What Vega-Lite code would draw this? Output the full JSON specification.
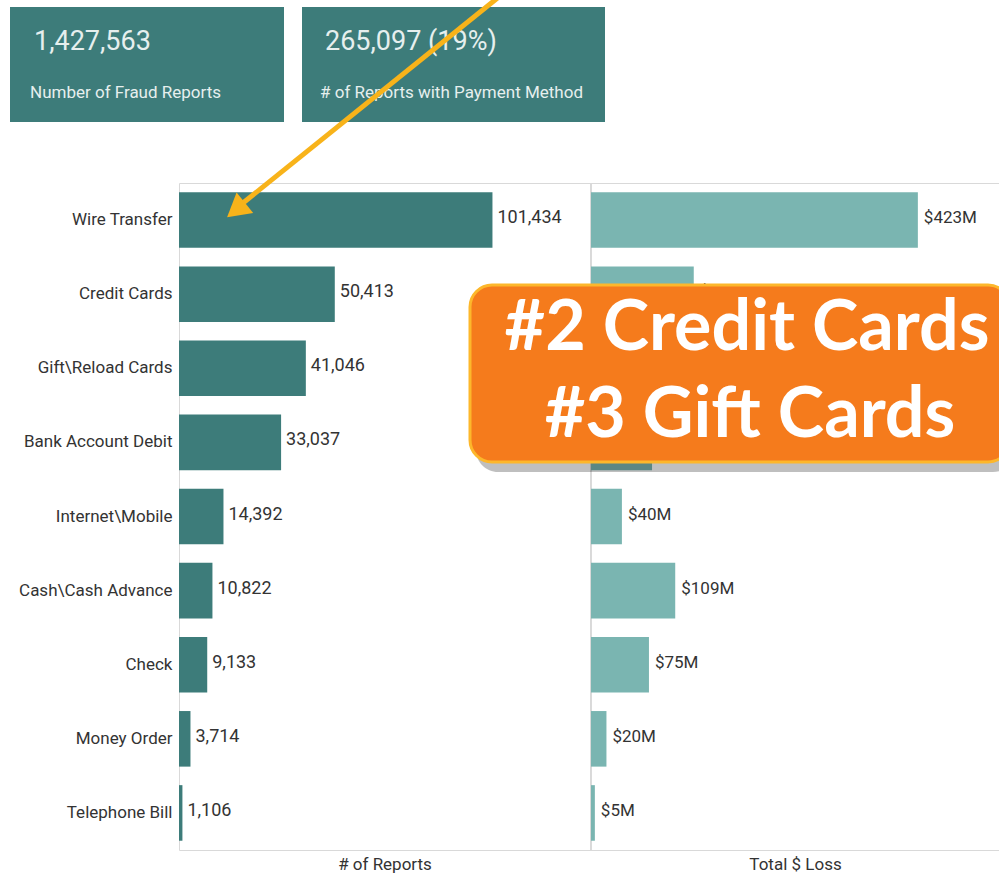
{
  "$schema": "https://vega.github.io/schema/vega-lite/v6.json",
  "width": 820,
  "height": 667,
  "autosize": {"type": "none"},
  "padding": {"left": 179, "top": 183, "right": 0, "bottom": 25},
  "background": "white",
  "config": {
    "view": {"stroke": "#d9d9d9"},
    "font": "Roboto, sans-serif",
    "text": {"font": "Roboto, sans-serif"}
  },
  "datasets": {
    "payments": [
      {"method": "Wire Transfer", "reports": 101434, "loss": 423000000},
      {"method": "Credit Cards", "reports": 50413, "loss": 133000000},
      {"method": "Gift\\Reload Cards", "reports": 41046, "loss": 53000000},
      {"method": "Bank Account Debit", "reports": 33037, "loss": 79000000},
      {"method": "Internet\\Mobile", "reports": 14392, "loss": 40000000},
      {"method": "Cash\\Cash Advance", "reports": 10822, "loss": 109000000},
      {"method": "Check", "reports": 9133, "loss": 75000000},
      {"method": "Money Order", "reports": 3714, "loss": 20000000},
      {"method": "Telephone Bill", "reports": 1106, "loss": 5000000}
    ]
  },
  "layer": [
    {
      "data": {"name": "payments"},
      "encoding": {
        "y": {
          "field": "method", "type": "nominal", "sort": null,
          "scale": {"paddingInner": 0.25, "paddingOuter": 0.125},
          "axis": {"orient": "left", "title": null, "domain": false, "ticks": false, "labelPadding": 7, "labelFontSize": 17, "labelColor": "#333333", "labelFont": "Roboto, sans-serif"}
        },
        "x": {
          "field": "reports", "type": "quantitative",
          "scale": {"domain": [0, 133000], "range": [0, 411], "nice": false},
          "axis": {"orient": "bottom", "title": "# of Reports", "labels": false, "ticks": false, "domain": false, "grid": false, "titleFontSize": 17, "titleFontWeight": "normal", "titleColor": "#333333", "titlePadding": 6, "titleFont": "Roboto, sans-serif"}
        }
      },
      "layer": [
        {"mark": {"type": "bar", "color": "#3d7c7a"}},
        {"mark": {"type": "text", "align": "left", "baseline": "middle", "dx": 5, "dy": -2, "fontSize": 18, "color": "#333333"},
         "encoding": {"text": {"field": "reports", "type": "quantitative", "format": ","}}}
      ]
    },
    {
      "data": {"name": "payments"},
      "encoding": {
        "y": {
          "field": "method", "type": "nominal", "sort": null,
          "scale": {"paddingInner": 0.25, "paddingOuter": 0.125},
          "axis": null
        },
        "x": {
          "field": "loss", "type": "quantitative",
          "scale": {"domain": [0, 528000000], "range": [412, 820], "nice": false},
          "axis": {"orient": "bottom", "title": "Total $ Loss", "labels": false, "ticks": false, "domain": false, "grid": false, "titleFontSize": 17, "titleFontWeight": "normal", "titleColor": "#333333", "titlePadding": 6, "titleFont": "Roboto, sans-serif"}
        }
      },
      "layer": [
        {"mark": {"type": "rule", "color": "#d9d9d9"}, "encoding": {"x": {"datum": 0, "type": "quantitative"}, "y": null}},
        {"mark": {"type": "bar", "color": "#7ab5b1"}},
        {"mark": {"type": "text", "align": "left", "baseline": "middle", "dx": 6, "dy": -2, "fontSize": 17, "color": "#333333"},
         "encoding": {"text": {"field": "loss", "type": "quantitative", "format": "$~s"}}}
      ]
    },
    {
      "data": {"values": [{}]},
      "encoding": {
        "x": {"datum": 0, "type": "quantitative", "scale": {"domain": [0, 999], "range": [-179, 820], "nice": false, "zero": false}, "axis": null},
        "y": {"datum": 0, "type": "quantitative", "scale": {"domain": [0, 875], "range": [-183, 692], "nice": false, "zero": false}, "axis": null}
      },
      "layer": [
        {"mark": {"type": "rect", "color": "#3d7c7a"},
         "encoding": {"x": {"datum": 10, "type": "quantitative"}, "x2": {"datum": 284}, "y": {"datum": 7, "type": "quantitative"}, "y2": {"datum": 122}}},
        {"mark": {"type": "rect", "color": "#3d7c7a"},
         "encoding": {"x": {"datum": 302, "type": "quantitative"}, "x2": {"datum": 605}, "y": {"datum": 7, "type": "quantitative"}, "y2": {"datum": 122}}},
        {"mark": {"type": "text", "align": "left", "baseline": "middle", "fontSize": 27, "color": "#e6efee"},
         "encoding": {"x": {"datum": 34, "type": "quantitative"}, "y": {"datum": 42, "type": "quantitative"}, "text": {"value": "1,427,563"}}},
        {"mark": {"type": "text", "align": "left", "baseline": "middle", "fontSize": 17, "color": "#e6efee"},
         "encoding": {"x": {"datum": 30, "type": "quantitative"}, "y": {"datum": 93, "type": "quantitative"}, "text": {"value": "Number of Fraud Reports"}}},
        {"mark": {"type": "text", "align": "left", "baseline": "middle", "fontSize": 27, "color": "#e6efee"},
         "encoding": {"x": {"datum": 325, "type": "quantitative"}, "y": {"datum": 42, "type": "quantitative"}, "text": {"value": "265,097  (19%)"}}},
        {"mark": {"type": "text", "align": "left", "baseline": "middle", "fontSize": 17, "color": "#e6efee"},
         "encoding": {"x": {"datum": 320, "type": "quantitative"}, "y": {"datum": 93, "type": "quantitative"}, "text": {"value": "# of Reports with Payment Method"}}},
        {"mark": {"type": "rule", "color": "#f8b31a", "strokeWidth": 5},
         "encoding": {"x": {"datum": 500, "type": "quantitative"}, "y": {"datum": -4, "type": "quantitative"}, "x2": {"datum": 238}, "y2": {"datum": 207}}},
        {"mark": {"type": "point", "shape": "triangle-up", "filled": true, "color": "#f8b31a", "opacity": 1, "size": 700, "angle": 231},
         "encoding": {"x": {"datum": 236, "type": "quantitative"}, "y": {"datum": 210, "type": "quantitative"}}},
        {"mark": {"type": "rect", "color": "#000000", "opacity": 0.25, "cornerRadius": 22},
         "encoding": {"x": {"datum": 476, "type": "quantitative"}, "x2": {"datum": 1015}, "y": {"datum": 292, "type": "quantitative"}, "y2": {"datum": 472}}},
        {"mark": {"type": "rect", "color": "#f57b1c", "stroke": "#fdb72b", "strokeWidth": 3, "cornerRadius": 22},
         "encoding": {"x": {"datum": 470, "type": "quantitative"}, "x2": {"datum": 1010}, "y": {"datum": 285, "type": "quantitative"}, "y2": {"datum": 462}}},
        {"mark": {"type": "text", "align": "center", "baseline": "middle", "fontSize": 70, "fontWeight": "bold", "font": "Lato", "color": "white"},
         "encoding": {"x": {"datum": 747, "type": "quantitative"}, "y": {"datum": 329, "type": "quantitative"}, "text": {"value": "#2 Credit Cards"}}},
        {"mark": {"type": "text", "align": "center", "baseline": "middle", "fontSize": 70, "fontWeight": "bold", "font": "Lato", "color": "white"},
         "encoding": {"x": {"datum": 750, "type": "quantitative"}, "y": {"datum": 416, "type": "quantitative"}, "text": {"value": "#3 Gift Cards"}}}
      ]
    }
  ],
  "resolve": {"scale": {"x": "independent", "y": "independent"}, "axis": {"x": "independent", "y": "independent"}}
}
